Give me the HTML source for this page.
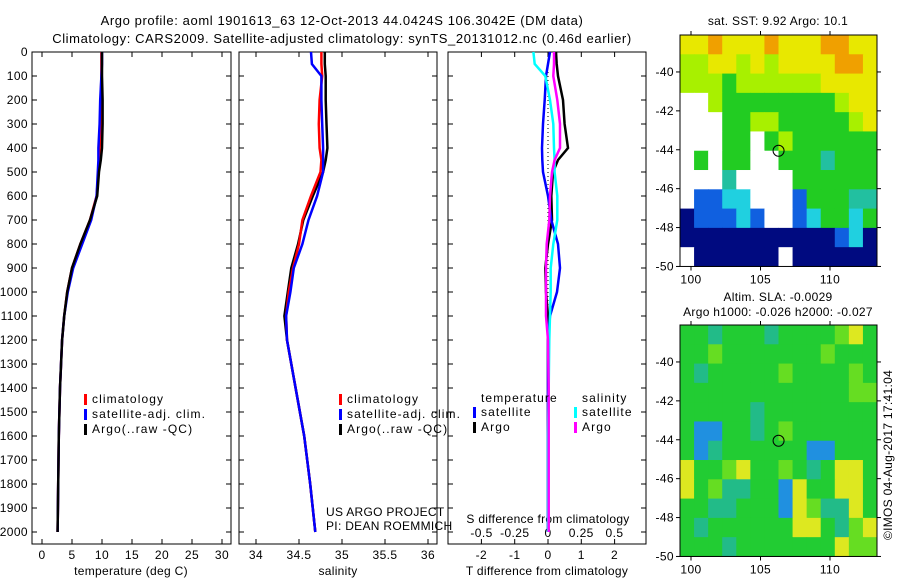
<!DOCTYPE html>
<html><head><meta charset="utf-8"><style>
body{margin:0;background:#fff;}
svg{display:block;font-family:"Liberation Sans",sans-serif;}
text{fill:#000;font-size:12px;letter-spacing:0.4px;}
text.lg{letter-spacing:1.1px;}
text.ax{letter-spacing:0.3px;}
text.tt{font-size:13px;letter-spacing:0.6px;}
</style></head><body>
<svg id="c" width="900" height="580" xmlns="http://www.w3.org/2000/svg"></svg>
<script>
// ---- data ----
const depths = [0,50,100,200,300,400,450,500,600,700,800,900,1000,1100,1200,1400,1600,1800,2000];
const tempArgo = [10.0,10.0,10.0,10.1,10.1,10.0,9.8,9.5,9.2,8.0,6.4,5.0,4.2,3.7,3.35,3.0,2.8,2.7,2.6];
const tempClim = [9.9,9.9,9.9,9.8,9.8,9.6,9.6,9.4,9.1,8.0,6.4,5.0,4.2,3.7,3.35,3.0,2.8,2.7,2.6];
const tempSat  = [10.0,10.0,9.9,9.7,9.6,9.4,9.4,9.3,9.1,8.2,6.7,5.2,4.3,3.7,3.35,3.0,2.8,2.7,2.6];
const salArgo = [34.80,34.80,34.81,34.81,34.82,34.83,34.81,34.78,34.66,34.55,34.49,34.41,34.37,34.33,34.36,34.46,34.56,34.63,34.69];
const salClim = [34.76,34.76,34.77,34.74,34.73,34.74,34.76,34.75,34.64,34.54,34.50,34.43,34.38,34.35,34.36,34.46,34.56,34.63,34.69];
const salSat  = [34.64,34.65,34.76,34.76,34.77,34.78,34.78,34.78,34.71,34.61,34.54,34.44,34.40,34.35,34.36,34.46,34.56,34.63,34.69];
const dTargo = [0.24,0.26,0.3,0.45,0.5,0.6,0.3,0.15,0.1,0.12,0,-0.08,-0.06,0,0,0,0,0,0];
const dTsat  = [0.06,0.0,-0.06,-0.1,-0.15,-0.18,-0.17,-0.15,0,0.1,0.3,0.36,0.27,0.06,0,0,0,0,0];
const dSsat  = [-0.11,-0.10,-0.02,0.015,0.04,0.045,0.05,0.05,0.07,0.07,0.04,0.02,0.02,0.015,0.01,0.005,0,0,0];
const dSargo = [0.045,0.045,0.04,0.07,0.09,0.09,0.05,0.03,0.015,0.01,-0.01,-0.015,-0.015,-0.015,0,0.005,0.005,0.005,0.005];
const depthTicks = [0,100,200,300,400,500,600,700,800,900,1000,1100,1200,1300,1400,1500,1600,1700,1800,1900,2000];
const tempTicks = [0,5,10,15,20,25,30];
const salTicks = [34,34.5,35,35.5,36];
const salTickLabels = ["34","34.5","35","35.5","36"];
const dTTicks = [-2,-1,0,1,2];
const dSTicks = [-0.5,-0.25,0,0.25,0.5];
const dSTickLabels = ["-0.5","-0.25","0","0.25","0.5"];
// map grids, rows lat -38 -> -50, cols lon 99.2 -> 113.5
const sstGrid = ["yyoyyyoyyyooyy","llyylylyyyyooy","lllgllllllyyyy","wwlgggggggglyy","wwwggllgggggly","wwwggwglgggggg","wgwggwwgggtggg","wwwtwwwwgggggg","wbbccwwwbgggtt","nbbbcbwwbcggcg","nnnnnnnnnnnbcn","wnnnnnnwnnnnnn"];
const slaGrid = ["ggtgggtgggglyg","gglggggggglggg","gtggggglgggglg","ggggggggggggll","gggggtgggggggg","gbbggtglgggggg","gbtggggggbbggg","ygglygglgtgyyg","yglttggbyggyyg","ggttgggbylttyg","gtggggggyygtly","gggtgggggggyll"];
const cmap = {o:"#f0a000",y:"#e8e800",l:"#a8f000",g:"#22cc22",t:"#22c0a0",c:"#20d0e0",b:"#1060e0",n:"#000a80",w:"#ffffff"};
const cmapSla = {o:"#f0a000",y:"#dde820",l:"#66dd22",g:"#22cc33",t:"#22bb88",c:"#20d0e0",b:"#2090e0",n:"#000a80",w:"#ffffff"};

const svg=document.getElementById('c');
const NS="http://www.w3.org/2000/svg";
function mk(tag,attrs,parent){const e=document.createElementNS(NS,tag);for(const k in attrs)e.setAttribute(k,attrs[k]);(parent||svg).appendChild(e);return e;}
function txt(x,y,s,anchor,size,cls){const t=mk('text',{x:x,y:y,'text-anchor':anchor||'start'});if(size)t.setAttribute('font-size',size);if(cls)t.setAttribute('class',cls);t.textContent=s;return t;}

const Y0=52, PX=0.24;
const yD=d=>Y0+d*PX;
const panels=[{x0:32,x1:231},{x0:239,x1:437},{x0:448,x1:646}];
const xT=v=>42+v*6;
const xS=v=>256+(v-34)*86;
const xDT=v=>548+v*33.3;
const xDS=v=>548+v*133;

function line(vals,fx,color,name,w){
  let d='';vals.forEach((v,i)=>{const x=fx(v),y=yD(depths[i]);d+=(i?'L':'M')+x.toFixed(1)+','+y.toFixed(1);});
  const p=mk('path',{d:d,fill:'none',stroke:color,'stroke-width':w||2.5});
  
  
}

panels.forEach((p,i)=>{
  const r=mk('rect',{x:p.x0,y:Y0,width:p.x1-p.x0,height:544-Y0,fill:'none',stroke:'#000','stroke-width':1});
  
  
  depthTicks.forEach(d=>{mk('line',{x1:p.x0,x2:p.x0+5,y1:yD(d),y2:yD(d),stroke:'#000'});mk('line',{x1:p.x1-5,x2:p.x1,y1:yD(d),y2:yD(d),stroke:'#000'});});
});
depthTicks.forEach(d=>{const t=txt(28,yD(d)+4,String(d),'end');});
function xticks(ticks,labels,fx,p,ly){ticks.forEach((v,i)=>{const x=fx(v);mk('line',{x1:x,x2:x,y1:544,y2:539,stroke:'#000'});mk('line',{x1:x,x2:x,y1:Y0,y2:Y0+5,stroke:'#000'});
  const t=txt(x,ly,labels[i],'middle');});}
xticks(tempTicks,tempTicks.map(String),xT,panels[0],559);
xticks(salTicks,salTickLabels,xS,panels[1],559);
xticks(dTTicks,dTTicks.map(String),xDT,panels[2],559);
dSTicks.forEach((v,i)=>{const t=txt(xDS(v),537,dSTickLabels[i],'middle');});
[["temperature (deg C)",131],["salinity",338],["T difference from climatology",547]].forEach(a=>{const t=txt(a[1],575,a[0],'middle',null,'ax');});
{const t=txt(548,523,"S difference from climatology",'middle',null,'ax');}

mk('line',{x1:548,x2:548,y1:Y0,y2:532,stroke:'#000','stroke-dasharray':'1,3'});

line(tempClim,xT,'#ff0000','temp-clim-line');
line(tempSat,xT,'#0000ff','temp-sat-line');
line(tempArgo,xT,'#000000','temp-argo-line');
line(salArgo,xS,'#000000','sal-argo-line');
line(salClim,xS,'#ff0000','sal-clim-line');
line(salSat,xS,'#0000ff','sal-sat-line');
line(dTargo,xDT,'#000000','tdiff-argo-line');
line(dTsat,xDT,'#0000ff','tdiff-sat-line');
line(dSsat,xDS,'#00ffff','sdiff-sat-line');
line(dSargo,xDS,'#ff00ff','sdiff-argo-line');

function legend(x,y,items,name){items.forEach((it,i)=>{mk('rect',{x:x,y:y+i*15-9,width:3,height:11,fill:it[1]});const t=txt(x+8,y+i*15,it[0],null,null,'lg');});}
legend(84,403,[["climatology","#ff0000"],["satellite-adj. clim.","#0000ff"],["Argo(..raw -QC)","#000"]],'legend-entry');
legend(339,403,[["climatology","#ff0000"],["satellite-adj. clim.","#0000ff"],["Argo(..raw -QC)","#000"]],'legend-entry');
txt(481,402,"temperature",null,null,'lg');txt(582,402,"salinity",null,null,'lg');
legend(473,416,[["satellite","#0000ff"],["Argo","#000"]],'legend-entry');
legend(574,416,[["satellite","#00ffff"],["Argo","#ff00ff"]],'legend-entry');
txt(326,516,"US ARGO PROJECT",null,null,'ax');txt(326,530,"PI: DEAN ROEMMICH",null,null,'ax');

{const t=txt(342,25,"Argo profile: aoml 1901613_63 12-Oct-2013 44.0424S 106.3042E (DM data)",'middle',null,'tt');
 const t2=txt(342,43,"Climatology: CARS2009. Satellite-adjusted climatology: synTS_20131012.nc (0.46d earlier)",'middle',null,'tt');}

function map(grid,cm,top,name){
  const x0=680,x1=877,bottom=top+(50-38.1)*19.45;
  const lonX=l=>691+(l-100)*13.9, latY=l=>top+(-38.1-l)*19.45;
  const g=mk('g',{});
  const rows=grid.length, cols=grid[0].length, cw=(x1-x0)/cols, ch=(bottom-top)/rows;
  grid.forEach((row,r)=>{for(let c=0;c<cols;c++){mk('rect',{x:x0+c*cw,y:top+r*ch,width:cw+0.5,height:ch+0.5,fill:cm[row[c]]},g);}});
  mk('rect',{x:x0,y:top,width:x1-x0,height:bottom-top,fill:'none',stroke:'#000'});
  [100,105,110].forEach(l=>{const x=lonX(l);mk('line',{x1:x,x2:x,y1:top,y2:top-4,stroke:'#000'});mk('line',{x1:x,x2:x,y1:bottom,y2:bottom+4,stroke:'#000'});txt(x,bottom+17,String(l),'middle');});
  [-40,-42,-44,-46,-48,-50].forEach(l=>{const y=latY(l);mk('line',{x1:x0,x2:x0-4,y1:y,y2:y,stroke:'#000'});mk('line',{x1:x1,x2:x1+4,y1:y,y2:y,stroke:'#000'});txt(x0-6,y+4,String(l),'end');});
  const c=mk('circle',{cx:lonX(106.3),cy:latY(-44.05),r:5.5,fill:'none',stroke:'#000'});
  
}
map(sstGrid,cmap,35,'sst-map');
map(slaGrid,cmapSla,325,'sla-map');
txt(778,25,"sat. SST: 9.92 Argo: 10.1",'middle',null,'ax');
txt(778,301,"Altim. SLA: -0.0029",'middle',null,'ax');
txt(778,316,"Argo h1000: -0.026 h2000: -0.027",'middle',null,'ax');
{const t=txt(0,0,"©IMOS 04-Aug-2017 17:41:04",'middle',null,'ax');t.setAttribute('transform','translate(892,455) rotate(-90)');}
</script>
</body></html>
